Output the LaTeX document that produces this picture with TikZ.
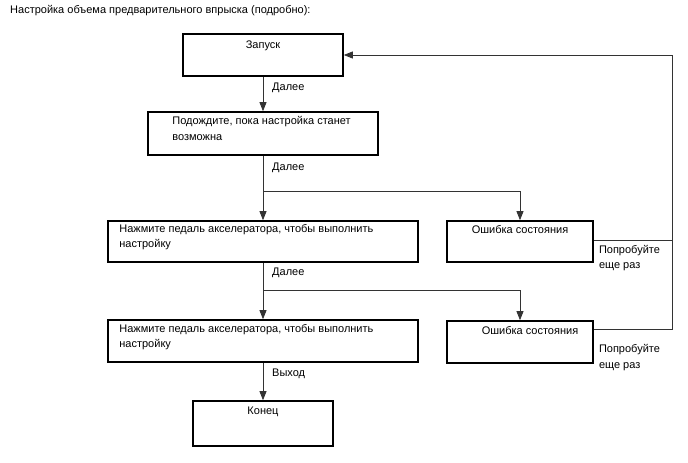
\documentclass[tikz,border=0pt]{standalone}
\usepackage{fontspec}
\setmainfont{Liberation Sans}
\usetikzlibrary{arrows.meta}

\tikzset{
  box/.style={draw, line width=1.6pt, rectangle, inner sep=0pt},
  conn/.style={draw=black!80, line width=0.8pt},
  arr/.style={conn, -{Triangle[length=9pt,width=7pt]}},
  txt/.style={font=\fontsize{11}{15.5}\selectfont, inner sep=0pt, align=left},
  boxcap/.style={txt, anchor=north},
  boxcapl/.style={txt, anchor=north west},
}

\begin{document}
\begin{tikzpicture}[x=1pt,y=-1pt]
\useasboundingbox (0,0) rectangle (688,463);
% title
\node[boxcapl] (title) at (10,5) {Настройка объема предварительного впрыска (подробно):};
% boxes
\node[box, minimum width=160, minimum height=42, label={[boxcap, yshift=-7pt]north:Запуск}] (start) at (263,55) {};
\node[box, minimum width=230, minimum height=43, label={[boxcapl, xshift=25pt, yshift=-5pt]north west:Подождите, пока настройка станет\\возможна}] (wait) at (263,133.5) {};
\node[box, minimum width=310, minimum height=41, label={[boxcapl, xshift=12pt, yshift=-4pt]north west:Нажмите педаль акселератора, чтобы выполнить\\настройку}] (press1) at (263,241.5) {};
\node[box, minimum width=146, minimum height=41, label={[boxcap, yshift=-5pt]north:Ошибка состояния}] (err1) at (520,241.5) {};
\node[box, minimum width=310, minimum height=42, label={[boxcapl, xshift=12pt, yshift=-5pt]north west:Нажмите педаль акселератора, чтобы выполнить\\настройку}] (press2) at (263,341) {};
\node[box, minimum width=146, minimum height=42, label={[boxcap, xshift=10pt, yshift=-6pt]north:Ошибка состояния}] (err2) at (520,342) {};
\node[box, minimum width=140, minimum height=45, label={[boxcap, yshift=-7pt]north:Конец}] (stop) at (263,423.5) {};
% branch points
\coordinate (fork1) at (263,191);
\coordinate (fork2) at (263,290);
\coordinate (ret) at (672,55);
% main flow
\draw[arr] (start) -- (wait);
\draw[conn] (wait) -- (fork1);
\draw[arr] (fork1) -- (press1);
\draw[arr] (fork1) -| (err1);
\draw[conn] (press1) -- (fork2);
\draw[arr] (fork2) -- (press2);
\draw[arr] (fork2) -| (err2);
\draw[arr] (press2) -- (stop);
% retry loop
\draw[conn] ([yshift=1.5pt]err1.east) -- ([yshift=1.5pt]err1.east -| ret);
\draw[arr] ([yshift=-9pt]err2.north east) -| (ret) -- (start.east);
% labels
\node[boxcapl] (next1) at ([xshift=9pt,yshift=-6pt]start.south) {Далее};
\node[boxcapl] (next2) at ([xshift=9pt,yshift=-7pt]wait.south) {Далее};
\node[boxcapl] (next3) at ([xshift=9pt,yshift=-5pt]press1.south) {Далее};
\node[boxcapl] (exit) at ([xshift=9pt,yshift=-6pt]press2.south) {Выход};
\node[boxcapl] (try1) at ([xshift=5pt,yshift=-3.5pt]err1.east) {Попробуйте\\еще раз};
\node[boxcapl] (try2) at ([xshift=5pt,yshift=-24pt]err2.north east) {Попробуйте\\еще раз};
\end{tikzpicture}
\end{document}
